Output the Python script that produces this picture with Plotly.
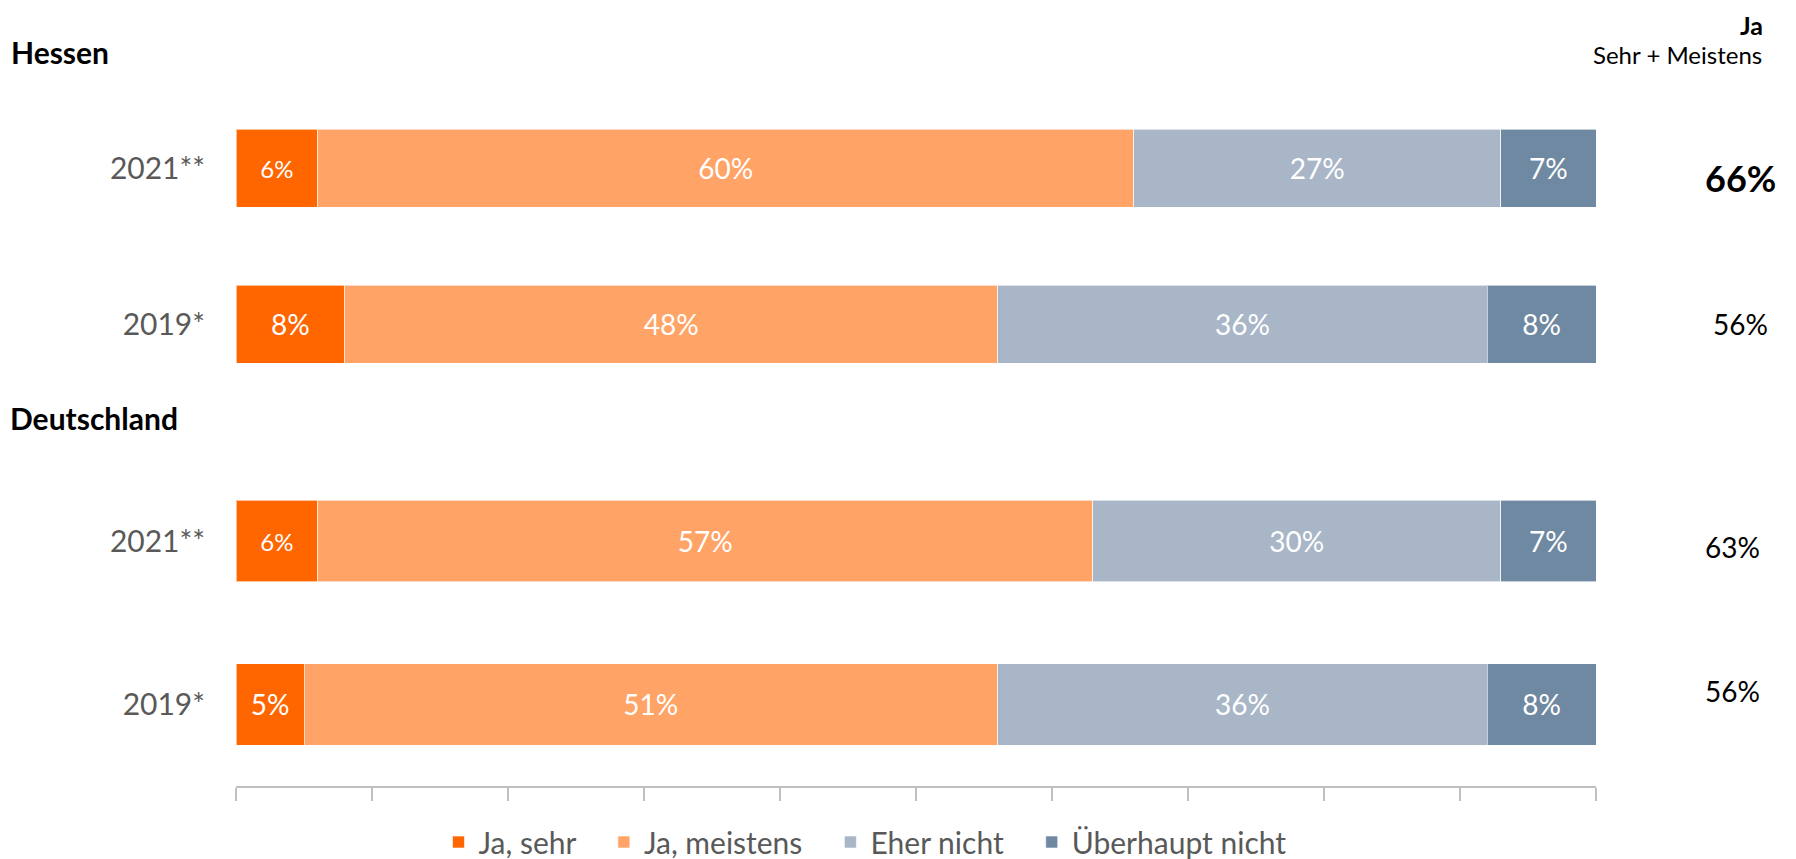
import plotly.graph_objects as go

# ---------------- data ----------------
categories = ["2021**", "2019*"]
series_names = ["Ja, sehr", "Ja, meistens", "Eher nicht", "Überhaupt nicht"]

hessen_sehr = [6, 8]
hessen_meistens = [60, 48]
hessen_eher_nicht = [27, 36]
hessen_ueberhaupt = [7, 8]

de_sehr = [6, 5]
de_meistens = [57, 51]
de_eher_nicht = [30, 36]
de_ueberhaupt = [7, 8]

hessen_ja_total = [66, 56]
de_ja_total = [63, 56]

axis_ticks = [0, 10, 20, 30, 40, 50, 60, 70, 80, 90, 100]

# ---------------- styles ----------------
colors = ["#FF6600", "#FFA366", "#A8B6C7", "#6F89A2"]
FONT = "Lato"
GRAY = "#595959"
PAD = "\u00a0" * 3  # extra spacing after legend entries

fig = go.Figure()

hessen = [hessen_sehr, hessen_meistens, hessen_eher_nicht, hessen_ueberhaupt]
de = [de_sehr, de_meistens, de_eher_nicht, de_ueberhaupt]

def label_sizes(idx):
    # the small first-segment labels in 2021 rows are set in a smaller size
    return [24 if (idx == 0 and c == "2021**") else 28 for c in categories]

for i, name in enumerate(series_names):
    for vals, xa, ya, show in [(hessen[i], "x", "y", True),
                               (de[i], "x2", "y2", False)]:
        fig.add_trace(go.Bar(
            y=categories, x=vals, orientation="h",
            name=(name + PAD if i < len(series_names) - 1 else name),
            xaxis=xa, yaxis=ya, showlegend=show, legendgroup=name,
            marker=dict(color=colors[i], line=dict(color="rgba(255,255,255,0.6)", width=1)),
            text=[f"{v}%" for v in vals], textposition="inside",
            insidetextanchor="middle",
            textfont=dict(family=FONT, color="white", size=label_sizes(i)),
            hoverinfo="skip",
        ))

fig.update_layout(
    width=1796, height=880,
    margin=dict(l=228, r=208, t=82, b=102, autoexpand=False),
    barmode="stack", bargap=0.5,
    plot_bgcolor="white", paper_bgcolor="white",
    font=dict(family=FONT, color=GRAY),
    xaxis=dict(domain=[0, 1], range=[0, 100], anchor="y", showticklabels=False,
               showline=False, showgrid=False, zeroline=False, ticks=""),
    yaxis=dict(domain=[0.5517, 1], anchor="x", autorange="reversed",
               categoryorder="array", categoryarray=categories,
               showgrid=False, zeroline=False, showline=False, ticks="",
               ticklabelstandoff=30,
               tickfont=dict(family=FONT, size=30, color=GRAY)),
    xaxis2=dict(domain=[0, 1], range=[0, 100], anchor="y2",
                tickvals=axis_ticks, showticklabels=False,
                showline=True, linecolor="#BFBFBF", linewidth=2,
                ticks="outside", ticklen=13, tickcolor="#BFBFBF", tickwidth=1.5,
                showgrid=False, zeroline=False),
    yaxis2=dict(domain=[0, 0.469], anchor="x2", autorange="reversed",
                categoryorder="array", categoryarray=categories,
                showgrid=False, zeroline=False, showline=False, ticks="",
                ticklabelstandoff=30,
                tickfont=dict(family=FONT, size=30, color=GRAY)),
    legend=dict(orientation="h", x=0.4625, xanchor="center", y=-0.0805, yanchor="middle",
                font=dict(family=FONT, size=30, color=GRAY),
                traceorder="normal", bgcolor="rgba(0,0,0,0)"),
)

annotations = [
    dict(text="<b>Hessen</b>", xref="paper", yref="paper", x=-0.1672, y=1.0546,
         xanchor="left", yanchor="middle", showarrow=False,
         font=dict(family=FONT, size=30, color="black")),
    dict(text="<b>Deutschland</b>", xref="paper", yref="paper", x=-0.1674, y=0.5287,
         xanchor="left", yanchor="middle", showarrow=False,
         font=dict(family=FONT, size=30, color="black")),
    dict(text="<b>Ja</b>", xref="paper", yref="paper", x=1.1235, y=1.094,
         xanchor="right", yanchor="middle", showarrow=False, borderpad=0,
         font=dict(family=FONT, size=25, color="black")),
    dict(text="Sehr + Meistens", xref="paper", yref="paper", x=1.1235, y=1.0505,
         xanchor="right", yanchor="middle", showarrow=False,
         font=dict(family=FONT, size=24, color="black")),
]

hessen_shift = [-10, 0]
de_shift = [-6, 13]
for j, cat in enumerate(categories):
    bold = (j == 0)
    annotations.append(dict(
        text=(f"<b>{hessen_ja_total[j]}%</b>" if bold else f"{hessen_ja_total[j]}%"),
        xref="paper", yref="y", x=1.1066, y=cat, xanchor="center", yanchor="middle",
        yshift=hessen_shift[j], showarrow=False,
        font=dict(family=FONT, size=(36 if bold else 28), color="black")))
    annotations.append(dict(
        text=f"{de_ja_total[j]}%",
        xref="paper", yref="y2", x=1.1, y=cat, xanchor="center", yanchor="middle",
        yshift=de_shift[j], showarrow=False,
        font=dict(family=FONT, size=28, color="black")))

fig.update_layout(annotations=annotations)

fig.write_html("out.html")
